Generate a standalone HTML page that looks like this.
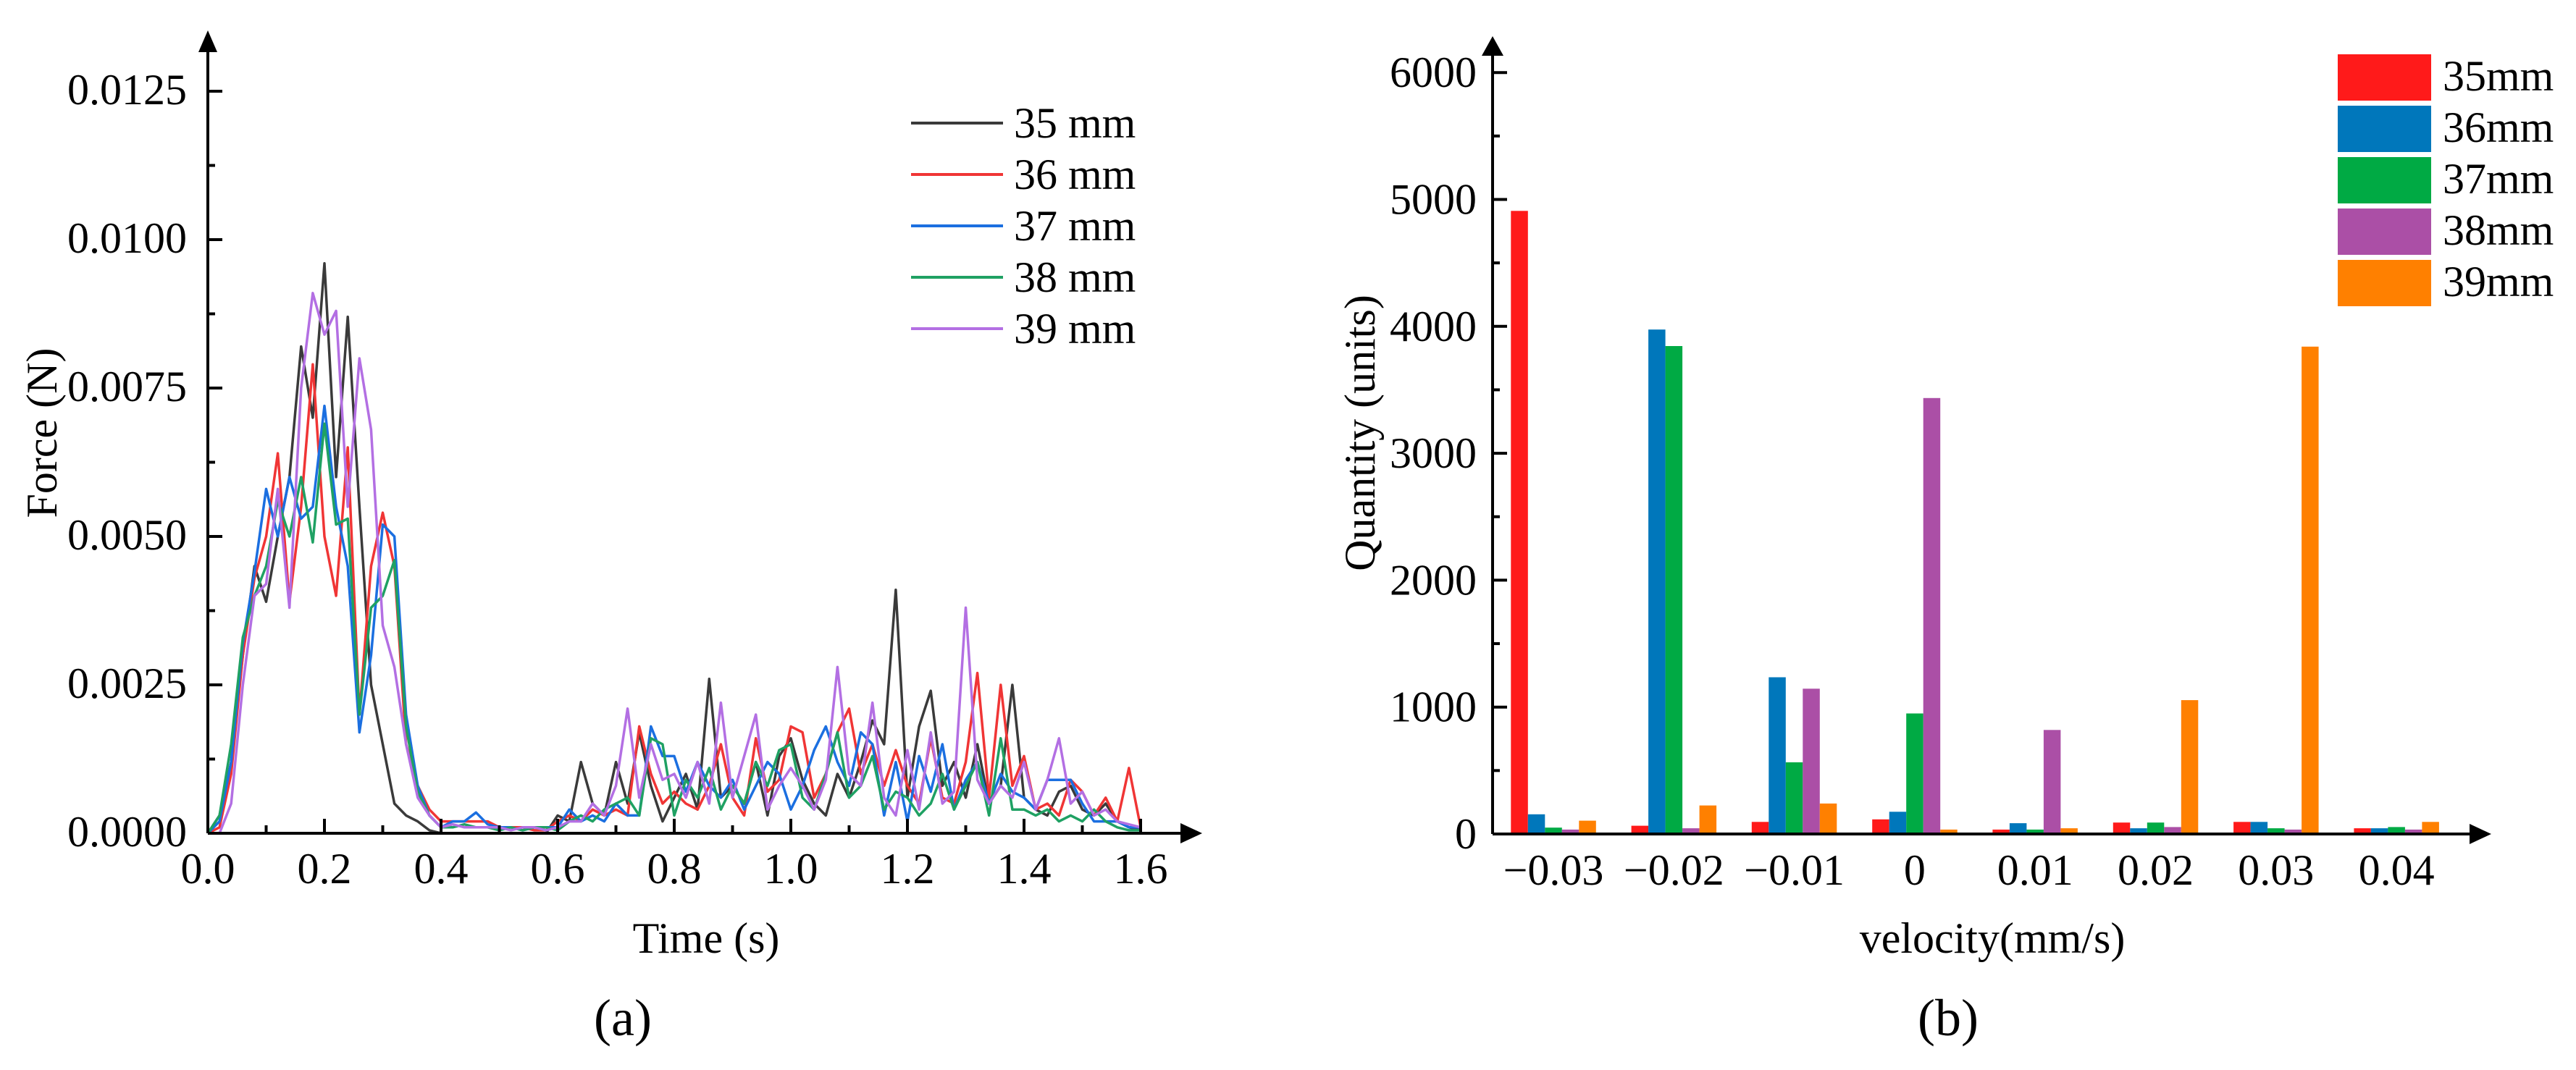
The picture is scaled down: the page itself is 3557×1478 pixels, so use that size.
<!DOCTYPE html>
<html><head><meta charset="utf-8"><style>
html,body{margin:0;padding:0;background:#fff}
svg{display:block;font-family:"Liberation Serif",serif}
</style></head><body>
<svg id="c" width="3557" height="1478" viewBox="0 0 3557 1478">
<g id="la"></g>
<g id="lb"></g>
</svg>
<script>
const times_step = 0.02;
const s35 = [0,0.3,1.2,3.0,4.5,3.9,5.0,6.0,8.2,7.0,9.6,6.0,8.7,5.5,2.5,1.5,0.5,0.3,0.2,0.05,0,0,0,0,0,0,0,0,0,0,0.3,0.2,1.2,0.5,0.3,1.2,0.5,1.7,0.8,0.2,0.6,1.0,0.4,2.6,0.6,0.8,0.5,1.2,0.3,1.3,1.6,0.9,0.5,0.3,1.0,0.6,1.2,1.9,1.5,4.1,0.6,1.8,2.4,0.8,1.2,0.6,1.5,0.5,0.8,2.5,0.6,0.4,0.3,0.7,0.8,0.4,0.3,0.5,0.2,0.1,0.05];
const s36 = [0,0.1,1.0,3.0,4.3,5.0,6.4,3.9,5.5,7.9,5.0,4.0,6.5,2.0,4.5,5.4,4.5,1.5,0.8,0.4,0.2,0.2,0.2,0.2,0.2,0.1,0.1,0.1,0.05,0.05,0.2,0.3,0.2,0.4,0.3,0.4,0.3,1.8,1.0,0.5,0.7,0.5,0.4,0.8,1.5,0.6,0.3,1.6,0.7,0.9,1.8,1.7,0.6,1.0,1.7,2.1,1.0,1.5,0.8,1.4,0.8,0.5,1.6,0.6,0.5,1.2,2.7,0.6,2.5,0.8,1.3,0.4,0.5,0.3,0.9,0.7,0.3,0.6,0.2,1.1,0.1];
const s37 = [0,0.2,1.2,3.2,4.4,5.8,5.0,6.0,5.3,5.5,7.2,5.5,4.5,1.7,3.0,5.2,5.0,2.0,0.8,0.3,0.1,0.2,0.2,0.35,0.15,0.1,0.1,0.05,0.1,0.1,0.1,0.4,0.2,0.3,0.2,0.5,0.3,0.3,1.8,1.3,1.3,0.7,1.2,0.8,0.6,0.9,0.4,0.8,1.2,1.0,0.4,0.8,1.4,1.8,1.2,0.8,1.7,1.5,0.3,1.2,0.2,1.3,0.7,1.5,0.4,0.9,1.2,0.5,1.0,0.7,0.6,0.4,0.9,0.9,0.9,0.5,0.2,0.2,0.2,0.1,0.1];
const s38 = [0,0.3,1.5,3.3,4.0,4.5,5.6,5.0,6.0,4.9,6.9,5.2,5.3,2.0,3.8,4.0,4.6,1.8,0.7,0.3,0.1,0.1,0.15,0.1,0.1,0.05,0.1,0.05,0.1,0.1,0.05,0.2,0.3,0.2,0.4,0.5,0.6,0.3,1.6,1.5,0.3,0.9,0.6,1.1,0.4,0.8,0.5,1.2,0.8,1.4,1.5,0.6,0.4,1.0,1.7,0.6,0.8,1.3,0.4,0.7,0.6,0.3,0.5,1.0,0.4,0.8,1.2,0.3,1.6,0.4,0.4,0.3,0.4,0.2,0.3,0.2,0.4,0.2,0.1,0.05,0.05];
const s39 = [0,0,0.5,2.5,4.0,4.2,5.8,3.8,7.5,9.1,8.4,8.8,5.5,8.0,6.8,3.5,2.8,1.5,0.6,0.3,0.1,0.15,0.1,0.1,0.1,0.1,0.05,0.1,0.1,0.05,0.1,0.2,0.2,0.5,0.3,0.8,2.1,0.6,1.5,0.9,1.0,0.6,1.2,0.5,2.2,0.6,1.3,2.0,0.4,0.8,1.1,0.8,0.4,0.9,2.8,1.0,0.8,2.2,0.6,0.3,1.4,0.4,1.7,0.5,0.7,3.8,0.9,0.5,0.8,0.6,1.2,0.4,0.9,1.6,0.5,0.7,0.3,0.4,0.2,0.15,0.1];
const lineNames = ["35 mm","36 mm","37 mm","38 mm","39 mm"];
const xTicksA = ["0.0","0.2","0.4","0.6","0.8","1.0","1.2","1.4","1.6"];
const yTicksA = ["0.0000","0.0025","0.0050","0.0075","0.0100","0.0125"];

const categories = ["\u22120.03","\u22120.02","\u22120.01","0","0.01","0.02","0.03","0.04"];
const b35 = [4910,65,95,115,35,90,95,45];
const b36 = [155,3975,1235,175,85,45,95,45];
const b37 = [50,3845,565,950,35,90,45,55];
const b38 = [35,45,1145,3435,820,55,35,35];
const b39 = [105,225,240,35,45,1055,3840,95];
const barNames = ["35mm","36mm","37mm","38mm","39mm"];
const yTicksB = ["0","1000","2000","3000","4000","5000","6000"];

const NS="http://www.w3.org/2000/svg";
function mk(p,tag,attrs,txt){const e=document.createElementNS(NS,tag);for(const k in attrs)e.setAttribute(k,attrs[k]);if(txt!==undefined)e.textContent=txt;p.appendChild(e);return e;}

// ---- chart a ----
const A=document.getElementById('la');
const ax0=287, axPer=805, ay0=1151, ayPer=205/2.5;
const xA=t=>ax0+t*axPer, yA=v=>ay0-v*ayPer;
const lineCols=["#3a3a3a","#f03535","#1b6fe0","#1fa163","#b36fe3"];
const series=[s35,s36,s37,s38,s39];
series.forEach((s,k)=>{
  const pts=s.map((v,i)=>xA(i*times_step).toFixed(1)+","+yA(v).toFixed(1)).join(" ");
  const pl=mk(A,'polyline',{points:pts,fill:'none',stroke:lineCols[k],'stroke-width':3.5,'stroke-linejoin':'round'});
  
  
});
mk(A,'line',{x1:ax0,y1:ay0,x2:1640,y2:ay0,stroke:'#000','stroke-width':4});
mk(A,'polygon',{points:`1660,${ay0} 1630,${ay0-14} 1630,${ay0+14}`,fill:'#000'});
mk(A,'line',{x1:ax0,y1:ay0,x2:ax0,y2:60,stroke:'#000','stroke-width':4});
mk(A,'polygon',{points:`${ax0},42 ${ax0-13},72 ${ax0+13},72`,fill:'#000'});
xTicksA.forEach((l,i)=>{
  const x=xA(i*0.2);
  mk(A,'line',{x1:x,y1:ay0,x2:x,y2:ay0-20,stroke:'#000','stroke-width':4});
  if(i<8){const xm=xA(i*0.2+0.1);mk(A,'line',{x1:xm,y1:ay0,x2:xm,y2:ay0-11,stroke:'#000','stroke-width':4});}
  const t=mk(A,'text',{x:x,y:1220,'font-size':60,'text-anchor':'middle'},l);
  
  
});
yTicksA.forEach((l,i)=>{
  const y=yA(i*2.5);
  mk(A,'line',{x1:ax0,y1:y,x2:ax0+20,y2:y,stroke:'#000','stroke-width':4});
  if(i<5){const ym=yA(i*2.5+1.25);mk(A,'line',{x1:ax0,y1:ym,x2:ax0+10,y2:ym,stroke:'#000','stroke-width':4});}
  const t=mk(A,'text',{x:258,y:y+18,'font-size':60,'text-anchor':'end'},l);
  
  
});
let tt=mk(A,'text',{x:975,y:1316,'font-size':60,'text-anchor':'middle'},'Time (s)');

tt=mk(A,'text',{x:0,y:0,'font-size':60,'text-anchor':'middle',transform:'translate(78,598) rotate(-90)'},'Force (N)');

tt=mk(A,'text',{x:860,y:1430,'font-size':72,'text-anchor':'middle'},'(a)');

lineNames.forEach((n,k)=>{
  const y=170+k*71;
  const g=mk(A,'g',{});
  
  
  mk(g,'line',{x1:1258,y1:y,x2:1385,y2:y,stroke:lineCols[k],'stroke-width':4});
  mk(g,'text',{x:1400,y:y+20,'font-size':60},n);
});

// ---- chart b ----
const B=document.getElementById('lb');
const bx0=2061, by0=1152, byPer=175.3/1000, c0=2145, cStep=166.3, bw=23.5;
const xB=i=>c0+i*cStep, yB=v=>by0-v*byPer;
const barCols=["#ff1a1a","#0077bb","#00aa44","#ab4fa6","#ff8000"];
const bseries=[b35,b36,b37,b38,b39];
bseries.forEach((s,k)=>{
  s.forEach((v,i)=>{
    const x=xB(i)+(k-2.5)*bw;
    const r=mk(B,'rect',{x:x.toFixed(1),y:yB(v).toFixed(1),width:bw,height:(v*byPer).toFixed(1),fill:barCols[k]});
    
    
  });
});
mk(B,'line',{x1:bx0,y1:by0,x2:3420,y2:by0,stroke:'#000','stroke-width':4});
mk(B,'polygon',{points:`3440,${by0} 3410,${by0-14} 3410,${by0+14}`,fill:'#000'});
mk(B,'line',{x1:bx0,y1:by0,x2:bx0,y2:70,stroke:'#000','stroke-width':4});
mk(B,'polygon',{points:`${bx0},50 ${bx0-15},77 ${bx0+15},77`,fill:'#000'});
yTicksB.forEach((l,i)=>{
  const y=yB(i*1000);
  mk(B,'line',{x1:bx0,y1:y,x2:bx0+20,y2:y,stroke:'#000','stroke-width':4});
  if(i<6){const ym=yB(i*1000+500);mk(B,'line',{x1:bx0,y1:ym,x2:bx0+10,y2:ym,stroke:'#000','stroke-width':4});}
  const t=mk(B,'text',{x:2039,y:y+20,'font-size':60,'text-anchor':'end'},l);
  
  
});
categories.forEach((c,i)=>{
  const t=mk(B,'text',{x:xB(i),y:1222,'font-size':60,'text-anchor':'middle'},c);
  
  
});
tt=mk(B,'text',{x:2751,y:1316,'font-size':60,'text-anchor':'middle'},'velocity(mm/s)');

tt=mk(B,'text',{x:0,y:0,'font-size':60,'text-anchor':'middle',transform:'translate(1898,598) rotate(-90)'},'Quantity (units)');

tt=mk(B,'text',{x:2690,y:1430,'font-size':72,'text-anchor':'middle'},'(b)');

barNames.forEach((n,k)=>{
  const y=75+k*71;
  const g=mk(B,'g',{});
  
  
  mk(g,'rect',{x:3228,y:y,width:129,height:64,fill:barCols[k]});
  mk(g,'text',{x:3373,y:y+50,'font-size':60},n);
});
</script>
</body></html>
